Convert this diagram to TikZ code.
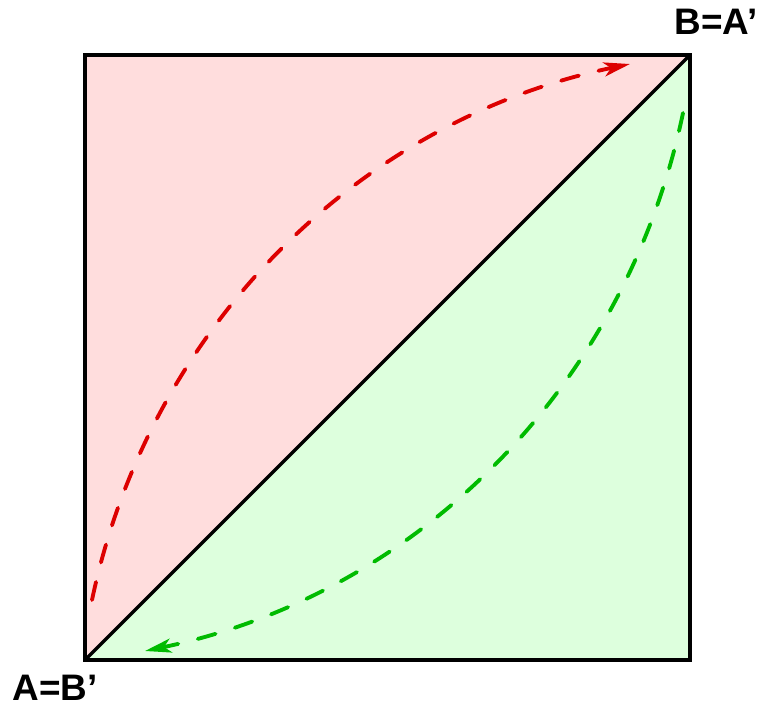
\documentclass[tikz,border=0pt]{standalone}
\usepackage{fontspec}
\setmainfont{Liberation Sans}
\usepackage{xcolor}
\usetikzlibrary{arrows.meta, positioning}

\definecolor{redfill}{RGB}{255,221,221}
\definecolor{greenfill}{RGB}{221,255,221}
\definecolor{redline}{RGB}{221,0,0}
\definecolor{greenline}{RGB}{0,187,0}

\tikzset{
  edge/.style={line width=2pt, line join=miter},
  path/.style={line width=2.2pt, line cap=round, dash pattern=on 10.5pt off 11.5pt,
    -{Stealth[length=15pt, width=8pt, inset=4pt, line cap=butt]}},
  corner/.style={font=\fontsize{21}{21}\selectfont\bfseries, inner sep=0pt}
}

\begin{document}
\begin{tikzpicture}[x=0.02cm, y=-0.02cm]
    \useasboundingbox (0,0) rectangle (768,713);
    % corners of the square
    \coordinate (sw) at (85,660);
    \coordinate (se) at (690,660);
    \coordinate (ne) at (690,55);
    \coordinate (nw) at (85,55);
    % the two halves
    \fill[redfill] (sw) -- (nw) -- (ne) -- cycle;
    \fill[greenfill] (sw) -- (se) -- (ne) -- cycle;
    \draw[edge] (sw) -- (se) -- (ne) -- (nw) -- cycle;
    \draw[edge] (sw) -- (ne);
    % ends of the dashed curves
    \coordinate (r0) at (92,600);
    \coordinate (r1) at (630,64);
    \coordinate (g0) at (683,113);
    \coordinate (g1) at (145,651);
    \draw[path, redline] (r0) .. controls (149,329) and (357,121) .. (r1);
    \draw[path, greenline] (g0) .. controls (626,386) and (418,594) .. (g1);
    % labels
    \node[corner] (a) at (55,688) {A=B’};
    \node[corner] (b) at (716,22) {B=A’};
\end{tikzpicture}
\end{document}
